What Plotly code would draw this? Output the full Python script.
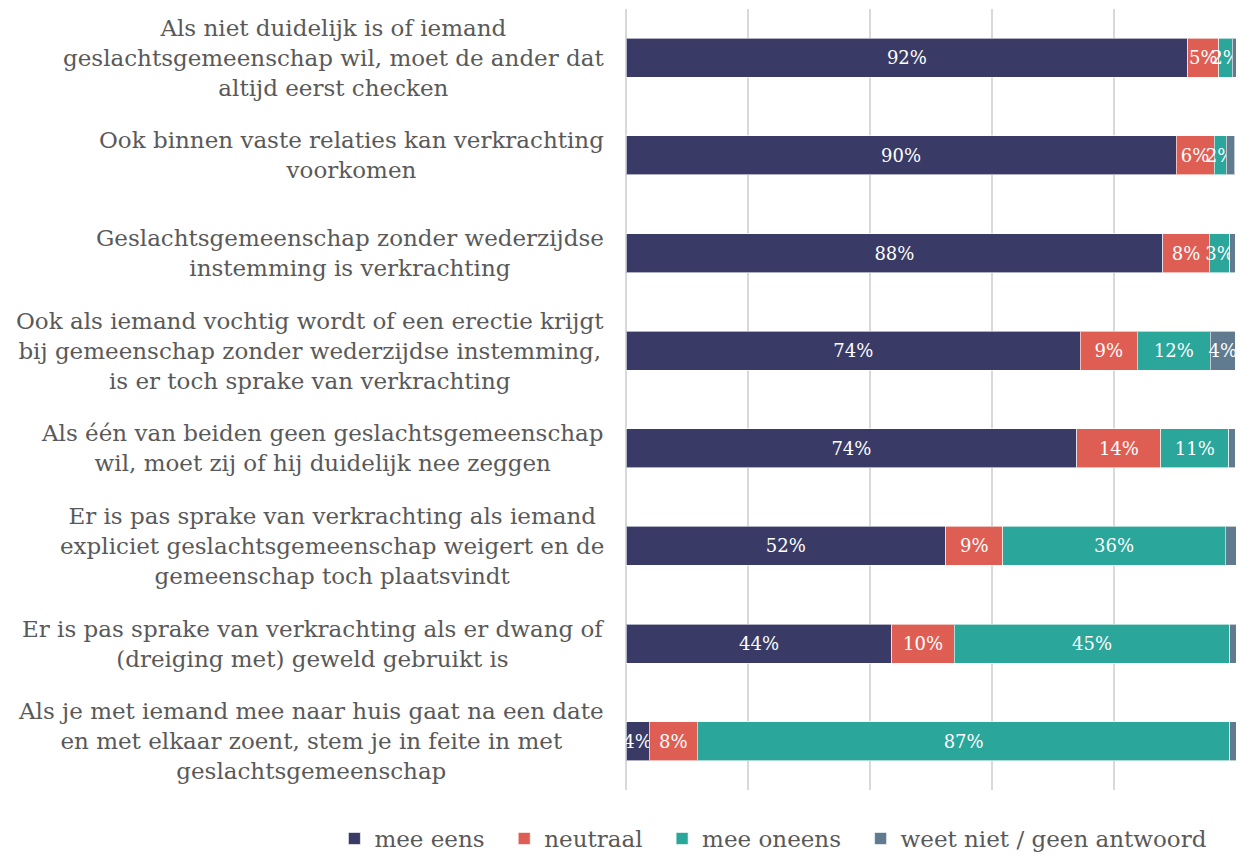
import plotly.graph_objects as go

categories = [
    "Als niet duidelijk is of iemand<br>geslachtsgemeenschap wil, moet de ander dat<br>altijd eerst checken",
    "Ook binnen vaste relaties kan verkrachting<br>voorkomen",
    "Geslachtsgemeenschap zonder wederzijdse<br>instemming is verkrachting",
    "Ook als iemand vochtig wordt of een erectie krijgt<br>bij gemeenschap zonder wederzijdse instemming,<br>is er toch sprake van verkrachting",
    "Als één van beiden geen geslachtsgemeenschap<br>wil, moet zij of hij duidelijk nee zeggen",
    "Er is pas sprake van verkrachting als iemand<br>expliciet geslachtsgemeenschap weigert en de<br>gemeenschap toch plaatsvindt",
    "Er is pas sprake van verkrachting als er dwang of<br>(dreiging met) geweld gebruikt is",
    "Als je met iemand mee naar huis gaat na een date<br>en met elkaar zoent, stem je in feite in met<br>geslachtsgemeenschap",
]

mee_eens = [92.1, 90.2, 88.0, 74.5, 73.9, 52.4, 43.6, 3.8]
neutraal = [5.1, 6.2, 7.6, 9.3, 13.8, 9.4, 10.2, 7.9]
mee_oneens = [2.2, 2.0, 3.4, 12.0, 11.1, 36.4, 45.2, 87.3]
weet_niet = [0.6, 1.4, 0.9, 4.1, 1.1, 1.8, 1.0, 1.0]

series_names = ["mee eens", "neutraal", "mee oneens", "weet niet / geen antwoord"]
series_values = [mee_eens, neutraal, mee_oneens, weet_niet]
series_colors = ["#393B66", "#DF5E53", "#2AA69B", "#607B8F"]

FONT = "DejaVu Serif"
PAD = "\u00a0\u00a0"

fig = go.Figure()
for i, (name, vals, color) in enumerate(zip(series_names, series_values, series_colors)):
    texts = [f"{round(v)}%" if v >= 1.95 else "" for v in vals]
    label = name + (PAD if i < len(series_names) - 1 else "")
    fig.add_trace(go.Bar(
        y=categories, x=vals, name=label, orientation="h",
        marker=dict(color=color, line=dict(color="rgba(255,255,255,0.6)", width=1)),
        text=texts, textposition="inside", insidetextanchor="middle", textangle=0,
        textfont=dict(color="white", size=18, family=FONT),
        hoverinfo="skip", width=0.4,
    ))

for c in categories:
    fig.add_annotation(
        x=-0.033, xref="paper", y=c, yref="y", text=c, showarrow=False,
        xanchor="right", yanchor="middle", align="center",
        font=dict(size=23, color="#595959", family=FONT),
    )

fig.update_layout(
    barmode="stack",
    width=1240, height=853,
    margin=dict(l=618, r=12, t=1, b=71),
    plot_bgcolor="white", paper_bgcolor="white",
    font=dict(family=FONT, color="#595959"),
    uniformtext=dict(minsize=18, mode="show"),
    bargap=0.6,
    showlegend=True,
    legend=dict(
        orientation="h", xref="paper", yref="paper",
        x=-0.478, y=-0.0346, xanchor="left", yanchor="top",
        font=dict(size=23, color="#595959", family=FONT),
        traceorder="normal", itemwidth=30,
    ),
    xaxis=dict(
        range=[0, 100], dtick=20, showgrid=True, gridcolor="#D9D9D9", gridwidth=2,
        showticklabels=False, zeroline=True, zerolinecolor="#D9D9D9", zerolinewidth=2,
        showline=False, fixedrange=True,
    ),
    yaxis=dict(
        categoryorder="array", categoryarray=categories, autorange="reversed",
        showticklabels=False, showgrid=False, zeroline=False, showline=False,
    ),
)

fig.write_html("out.html")
